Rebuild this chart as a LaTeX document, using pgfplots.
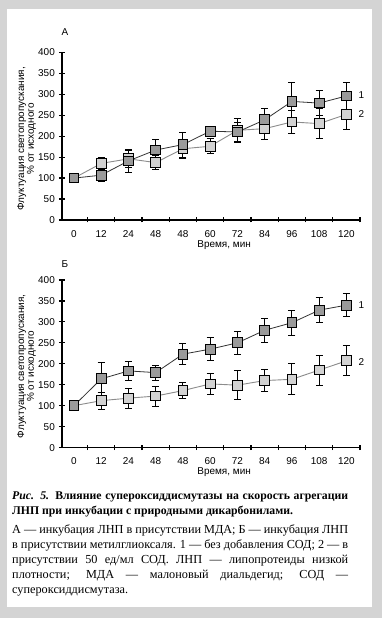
\documentclass[border=0pt]{standalone}
\usepackage{fontspec}
\setmainfont{Liberation Serif}
\setsansfont{Liberation Sans}
\usepackage{pgfplots}
\pgfplotsset{compat=1.18}
\usepackage{pgfplotstable}

\definecolor{frame}{HTML}{D4D4D4}
\definecolor{darkfill}{HTML}{9A9A9A}
\definecolor{lightfill}{HTML}{D2D2D2}

\pgfplotstableread{
x y e
0 100 0
1 107 15
2 141 28
3 167 25
4 180 30
5 212 0
6 210 22
7 239 27
8 283 46
9 279 29
10 296 33
}\dataAone
\pgfplotstableread{
x y e
0 100 0
1 135 15
2 146 20
3 137 16
4 170 23
5 176 18
6 214 28
7 218 26
8 234 28
9 230 35
10 252 36
}\dataAtwo
\pgfplotstableread{
x y e
0 100 0
1 164 40
2 183 22
3 179 18
4 223 25
5 235 28
6 250 28
7 280 28
8 298 30
9 328 30
10 340 28
}\dataBone
\pgfplotstableread{
x y e
0 100 0
1 112 20
2 118 24
3 123 24
4 136 20
5 152 25
6 149 34
7 160 27
8 163 37
9 185 36
10 207 36
}\dataBtwo

\pgfplotsset{
  panel/.style={
    scale only axis, width=298bp, height=167.6bp,
    xmin=-0.44, xmax=10.5, ymin=0, ymax=400,
    axis lines=left, axis line style={-, line width=1.6bp},
    xtick={0,...,10},
    xticklabels={0,12,24,48,48,60,72,84,96,108,120},
    minor xtick={0.5,1.5,...,10.5},
    ytick={0,50,...,400},
    major x tick style={draw=none},
    minor tick length=5bp, major tick length=6bp,
    tick style={line width=1.2bp, black},
    tick label style={font=\sffamily\fontsize{10}{12}\selectfont},
    /pgf/number format/assume math mode=true,
    xticklabel style={anchor=north, inner sep=0pt, yshift=-7bp},
    yticklabel style={anchor=east, inner sep=0pt, xshift=-4bp},
    xlabel={Время, мин},
    xlabel style={at={(axis description cs:0.544,0)}, anchor=center, yshift=-25bp, inner sep=0pt, font=\sffamily\fontsize{10}{12}\selectfont},
    ylabel={Флуктуация светопропускания,\\\% от исходного},
    ylabel style={at={(axis description cs:-0.119,0.485)}, anchor=center, align=center, inner sep=0pt, font=\sffamily\fontsize{10}{10}\selectfont},
    clip=false,
  },
  sone/.style={black!80, line width=0.8bp, mark=square*, mark size=4.9bp,
    mark options={fill=darkfill, draw=black, line width=1bp, solid},
    error bars/.cd, y dir=both, y explicit,
    error bar style={black, line width=1bp},
    error mark options={rotate=90, mark size=3.5bp, line width=1bp, black}},
  stwo/.style={black!45, line width=0.9bp, mark=square*, mark size=4.9bp,
    mark options={fill=lightfill, draw=black, line width=1bp, solid},
    error bars/.cd, y dir=both, y explicit,
    error bar style={black, line width=1bp},
    error mark options={rotate=90, mark size=3.5bp, line width=1bp, black}},
}

\begin{document}
\begin{tikzpicture}[x=1bp, y=1bp]
\fill[frame] (0bp,0bp) rectangle (382bp,618bp);
\fill[white] (7bp,11bp) rectangle (372bp,609bp);

\begin{axis}[panel, at={(62bp,398bp)}, anchor=south west]
\addplot[stwo] table[x=x, y=y, y error=e]{\dataAtwo};
\addplot[sone] table[x=x, y=y, y error=e]{\dataAone};
\node[font=\sffamily\fontsize{10}{12}\selectfont] at (axis cs:10.55,297) {1};
\node[font=\sffamily\fontsize{10}{12}\selectfont] at (axis cs:10.55,252) {2};
\end{axis}

\begin{axis}[panel, at={(62bp,170.4bp)}, anchor=south west]
\addplot[stwo] table[x=x, y=y, y error=e]{\dataBtwo};
\addplot[sone] table[x=x, y=y, y error=e]{\dataBone};
\node[font=\sffamily\fontsize{10}{12}\selectfont] at (axis cs:10.55,340) {1};
\node[font=\sffamily\fontsize{10}{12}\selectfont] at (axis cs:10.55,205) {2};
\end{axis}

\node[font=\sffamily\fontsize{10}{12}\selectfont] at (65bp,586bp) {А};
\node[font=\sffamily\fontsize{10}{12}\selectfont] at (65bp,354bp) {Б};

\node[anchor=north west, inner sep=0pt, text width=336bp, align=justify,
  font=\rmfamily\fontsize{12.3}{15}\selectfont] at (12bp,126bp) {%
{\fontsize{11.8}{15}\selectfont\bfseries\textit{Рис. 5.} Влияние супероксиддисмутазы на скорость агрегации\linebreak
ЛНП при инкубации с природными дикарбонилами.\par}\vspace{4bp}
А~— инкубация ЛНП в присутствии МДА; Б~— инкубация ЛНП\linebreak
в присутствии метилглиоксаля. 1~— без добавления СОД; 2~— в\linebreak
присутствии 50 ед/мл СОД. ЛНП~— липопротеиды низкой\linebreak
плотности; МДА~— малоновый диальдегид; СОД~—\linebreak
супероксиддисмутаза.};
\end{tikzpicture}
\end{document}
